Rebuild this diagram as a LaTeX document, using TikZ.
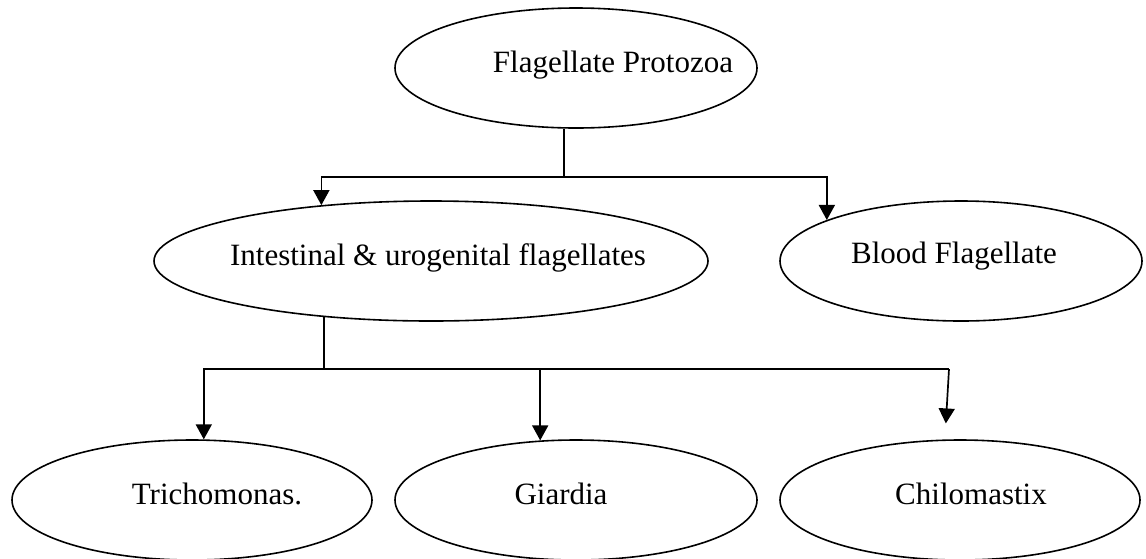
\documentclass[tikz,border=0pt]{standalone}
\usepackage{fontspec}
\setmainfont{Liberation Serif}
\usepackage{xcolor}
\usetikzlibrary{calc,shapes,positioning,arrows.meta}

\begin{document}
\begin{tikzpicture}[x=1pt, y=-1pt,
        oval/.style={draw, ellipse, line width=1.6pt, inner sep=0pt, minimum height=120pt},
        every label/.style={font=\fontsize{31}{36}\selectfont},
        link/.style={line width=1.5pt},
        arr/.style={line width=1.7pt, -{Triangle[width=16pt,length=15pt]}}]
        \useasboundingbox (0,0) rectangle (1146,558);

        % top level
        \node[oval, minimum width=362pt, label={[xshift=37pt, yshift=3pt]center:Flagellate Protozoa}] (proto) at (576,68) {};

        % second level
        \node[oval, minimum width=554pt, label={[xshift=7pt, yshift=3pt]center:Intestinal \& urogenital flagellates}] (intest) at (431,261) {};
        \node[oval, minimum width=362pt, label={[xshift=-7pt, yshift=5pt]center:Blood Flagellate}] (blood) at (961,261) {};

        % third level
        \node[oval, minimum width=360pt, label={[xshift=25pt, yshift=6pt]center:Trichomonas.}] (tricho) at (192,500) {};
        \node[oval, minimum width=362pt, label={[xshift=-15pt, yshift=6pt]center:Giardia}] (giardia) at (576,500) {};
        \node[oval, minimum width=360pt, label={[xshift=11pt, yshift=6pt]center:Chilomastix}] (chilo) at (960,500) {};

        % connectors
        \coordinate (split1) at (564,177);
        \coordinate (split2) at (324,369);
        \coordinate (bend3) at (949,369);

        \draw[link] (proto.south -| split1) -- (split1);
        \draw[arr] (split1) -| (intest.153);
        \draw[arr] (split1) -| (blood.163);

        \draw[link] (intest.207 -| split2) -- (split2);
        \draw[arr] (split2) -| (tricho.79);
        \draw[link] (split2) -- (bend3);
        \draw[arr] (split2 -| giardia.121) -- (giardia.121);
        \draw[arr, shorten >=16pt] (bend3) -- (chilo.104);
\end{tikzpicture}
\end{document}
